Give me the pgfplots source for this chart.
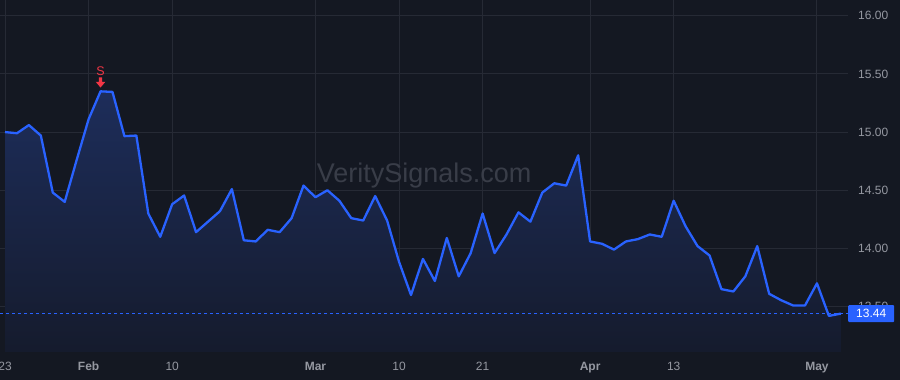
\documentclass[border=0pt]{standalone}
\usepackage{pgfplots}
\pgfplotsset{compat=1.18}
\usepackage{fontspec}
\setmainfont{Liberation Sans}
\definecolor{bg}{HTML}{141822}
\definecolor{gridc}{HTML}{262A35}
\definecolor{tv}{HTML}{2962FF}
\definecolor{lab}{HTML}{9598A1}
\definecolor{wm}{HTML}{393D48}
\definecolor{sig}{HTML}{F23645}
\definecolor{ftop}{HTML}{1D2D5A}
\definecolor{fbot}{HTML}{151B2D}

\pgfdeclareplotmark{sigdown}{%
 \pgfpathmoveto{\pgfpoint{-1.6pt}{14pt}}%
 \pgfpathlineto{\pgfpoint{1.6pt}{14pt}}%
 \pgfpathlineto{\pgfpoint{1.6pt}{9.5pt}}%
 \pgfpathlineto{\pgfpoint{4.8pt}{9.5pt}}%
 \pgfpathlineto{\pgfpoint{0pt}{3.8pt}}%
 \pgfpathlineto{\pgfpoint{-4.8pt}{9.5pt}}%
 \pgfpathlineto{\pgfpoint{-1.6pt}{9.5pt}}%
 \pgfpathclose
 \pgfusepathqfill
}

\pgfplotstableread{
i v
0 15.00
1 14.99
2 15.06
3 14.97
4 14.48
5 14.40
6 14.76
7 15.11
8 15.35
9 15.345
10 14.965
11 14.97
12 14.30
13 14.10
14 14.38
15 14.455
16 14.14
17 14.23
18 14.32
19 14.51
20 14.07
21 14.06
22 14.16
23 14.14
24 14.26
25 14.54
26 14.44
27 14.50
28 14.41
29 14.26
30 14.24
31 14.45
32 14.24
33 13.885
34 13.60
35 13.91
36 13.72
37 14.09
38 13.76
39 13.96
40 14.30
41 13.96
42 14.12
43 14.31
44 14.23
45 14.48
46 14.56
47 14.54
48 14.80
49 14.06
50 14.04
51 13.99
52 14.06
53 14.08
54 14.12
55 14.10
56 14.41
57 14.19
58 14.02
59 13.94
60 13.65
61 13.63
62 13.76
63 14.02
64 13.61
65 13.555
66 13.51
67 13.51
68 13.70
69 13.42
70 13.44
}\pricedata

\begin{document}
\begin{tikzpicture}
\fill[bg] (0,0) rectangle (900pt,380pt);
\useasboundingbox (0,0) rectangle (900pt,380pt);
\begin{axis}[
  at={(0pt,28pt)}, anchor=south west,
  scale only axis, width=848pt, height=352pt,
  xmin=-0.42, xmax=70.6, ymin=13.11, ymax=16.135,
  axis line style={draw=none},
  major tick length=0pt,
  xmajorgrids, ymajorgrids,
  grid style={gridc, line width=1pt},
  ytick={13.5,14,14.5,15,15.5,16},
  yticklabel pos=right,
  yticklabel style={/pgf/number format/.cd, fixed, fixed zerofill, precision=2, assume math mode=true, /tikz/.cd,
     anchor=west, inner sep=0pt, xshift=10pt, font=\fontsize{12}{14}\selectfont, text=lab},
  xtick={0,7,14,26,33,40,49,56,68},
  xticklabels={23,\textbf{Feb},10,\textbf{Mar},10,21,\textbf{Apr},13,\textbf{May}},
  xticklabel style={anchor=base, inner sep=0pt, yshift=-19pt, font=\fontsize{12}{14}\selectfont, text=lab},
  clip mode=individual,
]
\node[text=wm, font=\fontsize{27}{30}\selectfont, anchor=base] at (axis cs:35.1,14.567) {VeritySignals.com};
\addplot[draw=none, top color=ftop, bottom color=fbot] table[x=i, y=v] {\pricedata} \closedcycle;
\addplot[tv, line width=2.3pt, line join=round] table[x=i, y=v] {\pricedata};
\addplot[tv, line width=1.6pt, dash pattern=on 3pt off 3pt] coordinates {(-0.42,13.44) (70.6,13.44)};
\addplot[sig, only marks, mark=sigdown, nodes near coords={S},
  every node near coord/.append style={text=sig, font=\fontsize{12.5}{14}\selectfont, yshift=12.6pt}]
  coordinates {(8,15.35)};
\coordinate (pl) at (axis cs:70.6,13.44);
\end{axis}
\node[fill=tv, text=white, anchor=west, inner sep=0pt, minimum width=46pt, minimum height=17pt,
  font=\fontsize{12}{14}\selectfont, rounded corners=1pt] at (pl) {13.44};
\end{tikzpicture}
\end{document}
